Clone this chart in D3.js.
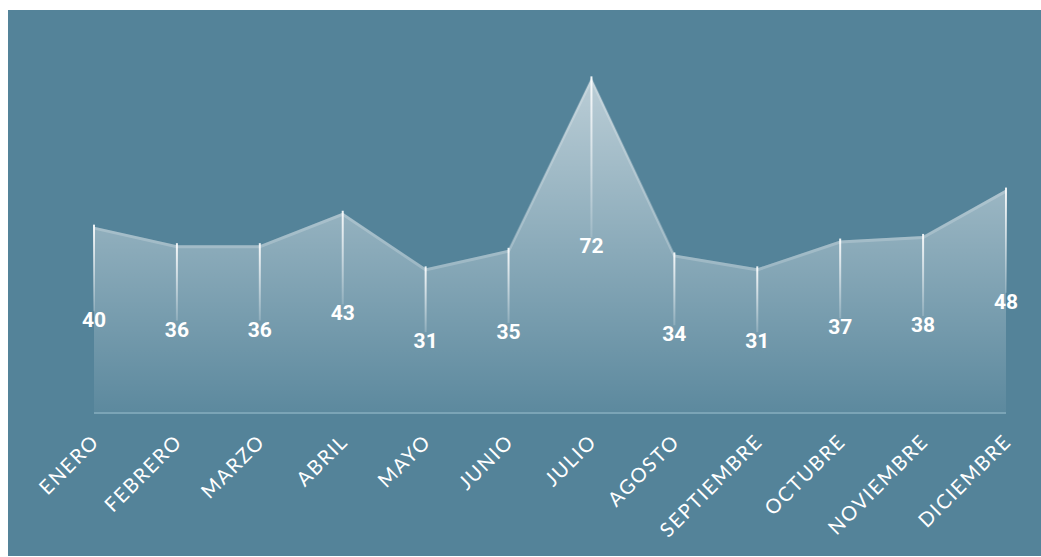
<!DOCTYPE html>
<html><head><meta charset="utf-8">
<script src="https://cdn.jsdelivr.net/npm/d3@7"></script>
<style>html,body{margin:0;padding:0;background:#fff;}svg{display:block;}</style>
</head><body><svg id="c" width="1041" height="557"></svg>
<script>
const months = ["ENERO","FEBRERO","MARZO","ABRIL","MAYO","JUNIO","JULIO","AGOSTO","SEPTIEMBRE","OCTUBRE","NOVIEMBRE","DICIEMBRE"];
const values = [40,36,36,43,31,35,72,34,31,37,38,48];

const W = 1041, H = 557;
const svg = d3.select("#c");
svg.append("rect").attr("x",8).attr("y",10).attr("width",W-8).attr("height",546).attr("fill","#548399");

const x = d3.scalePoint().domain(months).range([94,1006]);
const y = d3.scaleLinear().domain([0,80]).range([412,41.3]);

const defs = svg.append("defs");
const g1 = defs.append("linearGradient").attr("id","ag").attr("gradientUnits","userSpaceOnUse")
  .attr("x1",0).attr("x2",0).attr("y1",y(72)).attr("y2",y(0));
g1.append("stop").attr("offset",0).attr("stop-color","#fff").attr("stop-opacity",0.6);
g1.append("stop").attr("offset",1).attr("stop-color","#fff").attr("stop-opacity",0.05);

const data = months.map((m,i)=>({m, v: values[i]}));

const area = d3.area().x(d=>x(d.m)).y0(y(0)).y1(d=>y(d.v));
svg.append("path").datum(data).attr("d",area).attr("fill","url(#ag)");
svg.append("path").datum(data).attr("d",d3.line().x(d=>x(d.m)).y(d=>y(d.v)+1.5))
  .attr("fill","none").attr("stroke","#fff").attr("stroke-opacity",0.2).attr("stroke-width",3);

// baseline
svg.append("line").attr("x1",x(months[0])).attr("x2",x(months[11])).attr("y1",y(0)+1).attr("y2",y(0)+1)
  .attr("stroke","#7ba4b6").attr("stroke-width",2);

// drop lines
data.forEach((d,i)=>{
  const gid = "lg"+i;
  const gg = defs.append("linearGradient").attr("id",gid).attr("gradientUnits","userSpaceOnUse")
    .attr("x1",0).attr("x2",0).attr("y1",y(d.v)).attr("y2",(y(d.v)+y(0))/2);
  gg.append("stop").attr("offset",0).attr("stop-color","#fff").attr("stop-opacity",0.9);
  gg.append("stop").attr("offset",1).attr("stop-color","#fff").attr("stop-opacity",0.1);
  svg.append("rect").attr("x",x(d.m)-1).attr("width",2).attr("y",y(d.v)-2)
    .attr("height",((y(0)-y(d.v))/2)-6).attr("fill","url(#"+gid+")");
});

// value labels
svg.append("g").selectAll("text").data(data).join("text")
  .attr("x",d=>x(d.m)).attr("y",d=>(y(d.v)+y(0))/2+8)
  .attr("text-anchor","middle").attr("fill","#fff")
  .style("font-family","Roboto, sans-serif").style("font-weight","700").style("font-size","21px")
  .text(d=>d.v);

// category axis
const ax = svg.append("g").attr("transform","translate(0,"+y(0)+")")
  .call(d3.axisBottom(x).tickSize(0).tickPadding(0));
ax.select(".domain").remove();
ax.selectAll("text")
  .attr("fill","#fff").attr("text-anchor","end")
  .style("font-family","Lato, sans-serif").style("font-size","20px").style("font-weight","400")
  .style("letter-spacing","1.6px")
  .attr("dy",0).attr("y",0)
  .attr("transform","translate(6,31) rotate(-45)");
</script></body></html>
